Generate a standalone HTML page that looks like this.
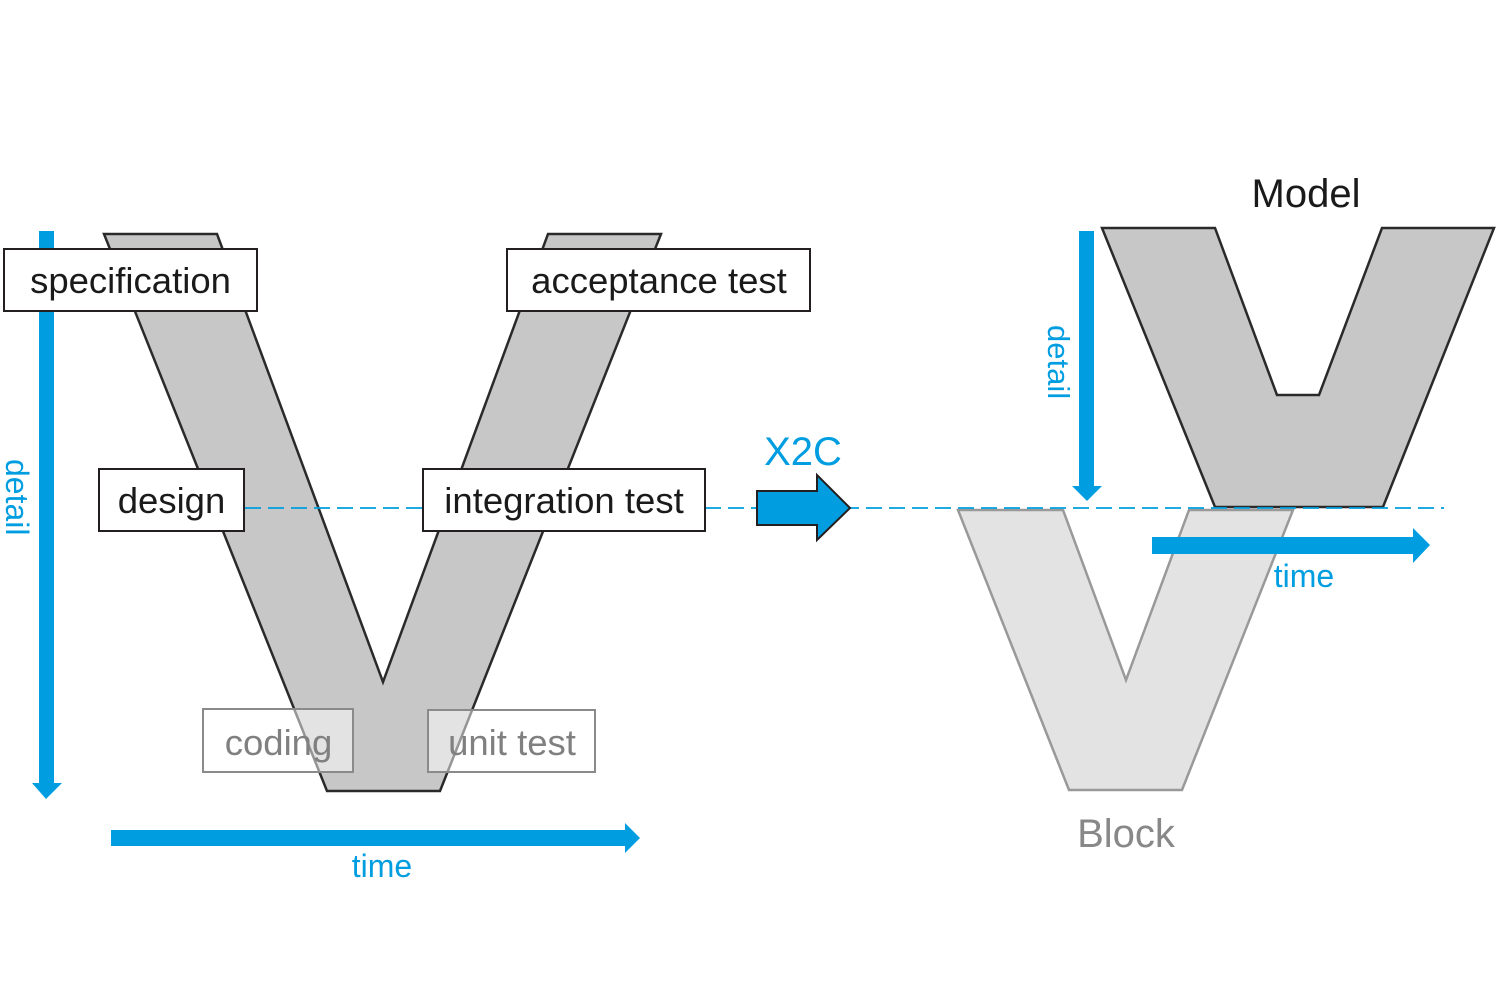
<!DOCTYPE html>
<html>
<head>
<meta charset="utf-8">
<style>
  html, body { margin:0; padding:0; background:#ffffff; }
  body { width:1500px; height:1000px; overflow:hidden; }
  svg { display:block; }
  text { font-family:"Liberation Sans", Arial, sans-serif; }
</style>
</head>
<body>
<svg width="1500" height="1000" viewBox="0 0 1500 1000" xmlns="http://www.w3.org/2000/svg">
  <rect x="0" y="0" width="1500" height="1000" fill="#ffffff"/>

  <!-- Left V -->
  <polygon points="104,234 217,234 383,682 548,234 661,234 440,791 327,791"
           fill="#c6c7c6" stroke="#2a2a2a" stroke-width="2.5" stroke-linejoin="miter"/>

  <!-- Block V (light) -->
  <polygon points="958,510 1063,510 1126,680 1189,510 1293,510 1182,790 1069,790"
           fill="#e2e3e2" stroke="#999999" stroke-width="2.5"/>

  <!-- Model V -->
  <polygon points="1102,228 1215,228 1277,395 1319,395 1382,228 1494,228 1383,507 1215,507"
           fill="#c6c7c6" stroke="#2a2a2a" stroke-width="2.5"/>

  <!-- Dashed line -->
  <line x1="245" y1="508" x2="1444" y2="508" stroke="#009ee0" stroke-width="1.8" stroke-dasharray="16 7"/>

  <!-- Left detail arrow -->
  <rect x="39" y="231" width="15" height="553" fill="#009ee0"/>
  <polygon points="32,783 62,783 46,799" fill="#009ee0"/>
  <text x="6" y="459" transform="rotate(90 6 459)" font-size="32" fill="#009ee0">detail</text>

  <!-- Left time arrow -->
  <rect x="111" y="830" width="515" height="16" fill="#009ee0"/>
  <polygon points="625,823 640,838 625,853" fill="#009ee0"/>
  <text x="382" y="877" font-size="32" fill="#009ee0" text-anchor="middle">time</text>

  <!-- Boxes -->
  <rect x="4" y="249" width="253" height="62" fill="#ffffff" stroke="#231f20" stroke-width="2"/>
  <text x="130.5" y="293" font-size="36.5" fill="#1a1a1a" text-anchor="middle">specification</text>

  <rect x="507" y="249" width="303" height="62" fill="#ffffff" stroke="#231f20" stroke-width="2"/>
  <text x="659" y="293" font-size="36.5" fill="#1a1a1a" text-anchor="middle">acceptance test</text>

  <rect x="99" y="469" width="145" height="62" fill="#ffffff" stroke="#231f20" stroke-width="2"/>
  <text x="171.5" y="513" font-size="36.5" fill="#1a1a1a" text-anchor="middle">design</text>

  <rect x="423" y="469" width="282" height="62" fill="#ffffff" stroke="#231f20" stroke-width="2"/>
  <text x="564" y="513" font-size="36.5" fill="#1a1a1a" text-anchor="middle">integration test</text>

  <!-- Faded boxes -->
  <rect x="203" y="709" width="150" height="63" fill="#ffffff" fill-opacity="0.5" stroke="#8a8a8a" stroke-width="2"/>
  <text x="278.5" y="755" font-size="36.5" fill="#808080" text-anchor="middle">coding</text>

  <rect x="428" y="710" width="167" height="62" fill="#ffffff" fill-opacity="0.5" stroke="#8a8a8a" stroke-width="2"/>
  <text x="512" y="755" font-size="36.5" fill="#808080" text-anchor="middle">unit test</text>

  <!-- X2C arrow -->
  <text x="803" y="465" font-size="40" fill="#009ee0" text-anchor="middle">X2C</text>
  <polygon points="757,491 817,491 817,475 850,508 817,540 817,525 757,525"
           fill="#009ee0" stroke="#231f20" stroke-width="2" stroke-linejoin="miter"/>

  <!-- Right detail arrow -->
  <rect x="1079" y="231" width="15" height="256" fill="#009ee0"/>
  <polygon points="1072,486 1102,486 1087,501" fill="#009ee0"/>
  <text x="1048" y="325" transform="rotate(90 1048 325)" font-size="31" fill="#009ee0">detail</text>

  <!-- Right time arrow -->
  <rect x="1152" y="537" width="262" height="17" fill="#009ee0"/>
  <polygon points="1413,528 1430,545 1413,563" fill="#009ee0"/>
  <text x="1304" y="587" font-size="32" fill="#009ee0" text-anchor="middle">time</text>

  <!-- Labels -->
  <text x="1306" y="207" font-size="40" fill="#1a1a1a" text-anchor="middle">Model</text>
  <text x="1126" y="847" font-size="40" fill="#888888" text-anchor="middle">Block</text>
</svg>
</body>
</html>
